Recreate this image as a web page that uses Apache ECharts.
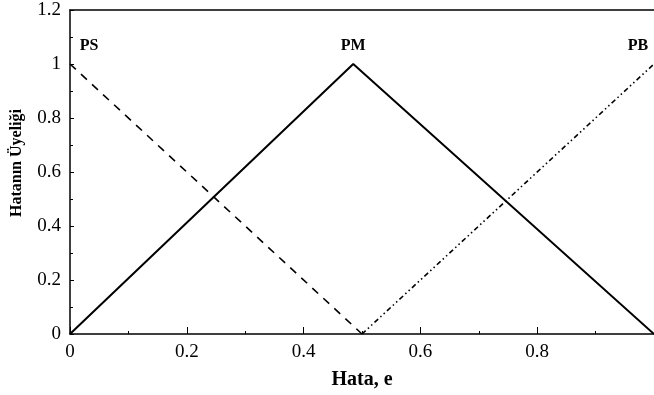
<!DOCTYPE html>
<html>
<head>
<meta charset="utf-8">
<script src="https://cdn.jsdelivr.net/npm/echarts@6/dist/echarts.min.js"></script>
<style>
  html, body { margin: 0; padding: 0; background: #fff; }
  #chart { width: 654px; height: 395px; }
</style>
</head>
<body>
<div id="chart"></div>
<script>
// Membership functions of the error (triangular fuzzy sets)
const psX = [0, 0.5];
const psY = [1, 0];
const pmX = [0, 0.485, 1];
const pmY = [0, 1, 0];
const pbX = [0.5, 1];
const pbY = [0, 1];

const xTitle = 'Hata, e';
const yTitle = 'Hatanın Üyeliği';

const serif = '"Liberation Serif", "DejaVu Serif", serif';

function pairs(xs, ys) {
  return xs.map((x, i) => [x, ys[i]]);
}

// Put the set name above one chosen point of each curve
function withLabel(points, idx, text, offset) {
  return points.map((p, i) => i === idx ? {
    value: p,
    label: {
      show: true, formatter: text, position: 'top', offset: offset,
      fontFamily: serif, fontWeight: 'bold', fontSize: 16, color: '#000'
    }
  } : p);
}

const chart = echarts.init(document.getElementById('chart'));
chart.setOption({
  animation: false,
  backgroundColor: '#fff',
  grid: { left: 70, top: 10, right: -3, bottom: 57, containLabel: false },
  xAxis: [{
    type: 'value', min: 0, max: 1, interval: 0.2,
    name: xTitle, nameLocation: 'middle', nameGap: 36,
    nameTextStyle: { fontFamily: serif, fontWeight: 'bold', fontSize: 20, color: '#000' },
    axisLine: { lineStyle: { color: '#000', width: 1.5 } },
    axisTick: { inside: true, length: 7, lineStyle: { color: '#000' } },
    minorTick: { show: true, splitNumber: 2, length: 3, lineStyle: { color: '#000' } },
    axisLabel: { fontFamily: serif, fontSize: 19, color: '#000', margin: 9, showMaxLabel: false },
    splitLine: { show: false }
  }, {
    type: 'value', min: 0, max: 1, position: 'top',
    axisLine: { lineStyle: { color: '#000', width: 1.5 } },
    axisTick: { show: false }, axisLabel: { show: false }, splitLine: { show: false }
  }],
  yAxis: {
    type: 'value', min: 0, max: 1.2, interval: 0.2,
    name: yTitle, nameLocation: 'middle', nameGap: 45, nameRotate: 90,
    nameTextStyle: { fontFamily: serif, fontWeight: 'bold', fontSize: 16, color: '#000', padding: [0, 0, 0, 18] },
    axisLine: { show: true, lineStyle: { color: '#000', width: 1.5 } },
    axisTick: { show: true, inside: true, length: 4, lineStyle: { color: '#000' } },
    minorTick: { show: true, splitNumber: 2, length: 3, lineStyle: { color: '#000' } },
    axisLabel: { fontFamily: serif, fontSize: 19, color: '#000', margin: 9 },
    splitLine: { show: false }
  },
  series: [{
    name: 'PS', type: 'line', symbol: 'circle', symbolSize: 0,
    data: withLabel(pairs(psX, psY), 0, 'PS', [19, -5]),
    lineStyle: { color: '#000', width: 1.6, type: [8, 7] }
  }, {
    name: 'PM', type: 'line', symbol: 'circle', symbolSize: 0,
    data: withLabel(pairs(pmX, pmY), 1, 'PM', [0, -5]),
    lineStyle: { color: '#000', width: 2 }
  }, {
    name: 'PB', type: 'line', symbol: 'circle', symbolSize: 0,
    data: withLabel(pairs(pbX, pbY), 1, 'PB', [-16, -5]),
    lineStyle: { color: '#000', width: 1.6, type: [5, 3, 1.5, 3, 1.5, 3] }
  }]
});
</script>
</body>
</html>
